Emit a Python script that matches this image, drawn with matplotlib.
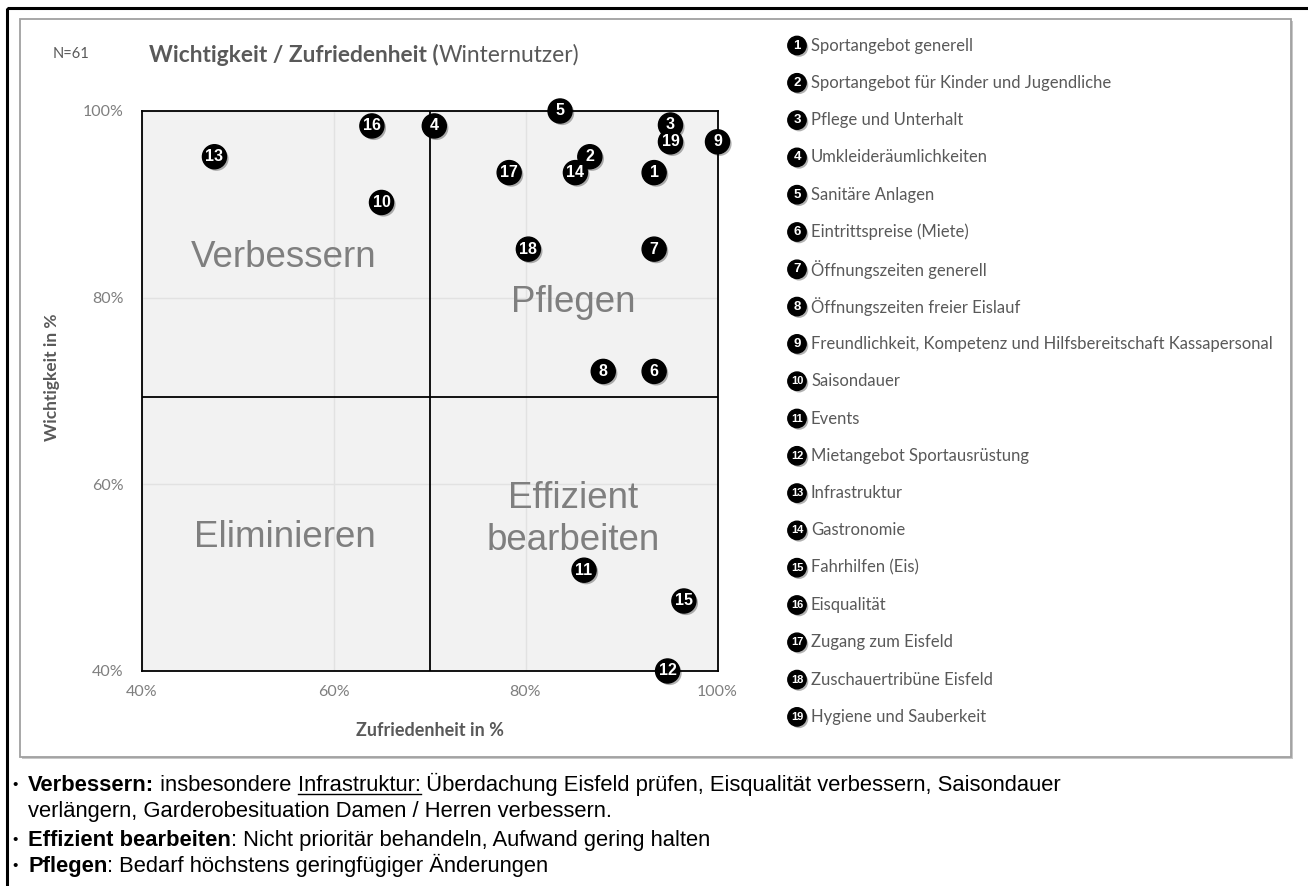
import matplotlib
matplotlib.use('Agg')
import matplotlib.pyplot as plt
from matplotlib.patches import Rectangle
import matplotlib.patheffects as pe

# ---------------- data ----------------
item_ids = [str(i) for i in range(1, 20)]
satisfaction = [93.4, 86.7, 95.1, 70.5, 83.6, 93.4, 93.4, 88.1, 100.0, 65.0,
                86.1, 94.8, 47.6, 85.2, 96.5, 64.0, 78.3, 80.3, 95.1]
importance = [93.4, 95.1, 98.5, 98.4, 100.0, 72.1, 85.2, 72.1, 96.7, 90.2,
              50.8, 40.0, 95.1, 93.4, 47.5, 98.4, 93.4, 85.2, 96.7]
item_names = [
    "Sportangebot generell",
    "Sportangebot für Kinder und Jugendliche",
    "Pflege und Unterhalt",
    "Umkleideräumlichkeiten",
    "Sanitäre Anlagen",
    "Eintrittspreise (Miete)",
    "Öffnungszeiten generell",
    "Öffnungszeiten freier Eislauf",
    "Freundlichkeit, Kompetenz und Hilfsbereitschaft Kassapersonal",
    "Saisondauer",
    "Events",
    "Mietangebot Sportausrüstung",
    "Infrastruktur",
    "Gastronomie",
    "Fahrhilfen (Eis)",
    "Eisqualität",
    "Zugang zum Eisfeld",
    "Zuschauertribüne Eisfeld",
    "Hygiene und Sauberkeit",
]
quadrant_labels = ["Verbessern", "Pflegen", "Eliminieren", "Effizient\nbearbeiten"]
ticks = [40, 60, 80, 100]
tick_labels = ["40%", "60%", "80%", "100%"]
x_split = 70
y_split = 69.4
sample_label = "N=61"
title_bold = "Wichtigkeit / Zufriedenheit ("
title_regular = "Winternutzer)"
x_label = "Zufriedenheit in %"
y_label = "Wichtigkeit in %"

# ---------------- figure ----------------
W, H = 1308, 886
fig = plt.figure(figsize=(W / 100, H / 100), dpi=100)
fig.patch.set_facecolor('white')

ov = fig.add_axes([0, 0, 1, 1], zorder=0)
ov.set_xlim(0, W)
ov.set_ylim(H, 0)
ov.axis('off')
ov.patch.set_alpha(0)

# frames
ov.add_patch(Rectangle((7, 8), 1320, 900, fill=False, edgecolor='black', lw=2.2))
ov.add_patch(Rectangle((22, 21), 1271, 738, facecolor='#c8c8c8', edgecolor='none'))
ov.add_patch(Rectangle((20, 19), 1271, 738, facecolor='white', edgecolor='#a0a0a0', lw=1.3))

FONT = ['Lato', 'DejaVu Sans']
NUMFONT = ['Liberation Sans Narrow', 'Liberation Sans', 'DejaVu Sans']
GRAY = '#595959'

fig.canvas.draw()
renderer = fig.canvas.get_renderer()


def text_width(s, **kw):
    t = ov.text(0, 0, 'x' + s + 'x', **kw)
    t2 = ov.text(0, 0, 'xx', **kw)
    w = t.get_window_extent(renderer).width - t2.get_window_extent(renderer).width
    t.remove()
    t2.remove()
    return w


def draw_runs(x, y, runs, **kw):
    for s, weight, underline in runs:
        ov.text(x, y, s, fontweight=weight, va='baseline', ha='left', **kw)
        w = text_width(s, fontweight=weight, **kw)
        if underline:
            ov.plot([x, x + w], [y + 3, y + 3], color=kw.get('color', 'black'), lw=1.0)
        x += w
    return x


# title
ov.text(53, 54, sample_label, fontsize=10.5, color=GRAY, family=FONT, va='center', ha='left')
draw_runs(149, 62, [(title_bold, 'bold', False), (title_regular, 'normal', False)],
          fontsize=16.4, color=GRAY, family=FONT)

# ---------------- main axes ----------------
ax = fig.add_axes([141.5 / W, 1 - 671 / H, 576 / W, 560 / H], zorder=1)
ax.set_facecolor('#f2f2f2')
ax.set_xlim(40, 100)
ax.set_ylim(40, 100)
ax.set_xticks(ticks)
ax.set_yticks(ticks)
ax.set_xticklabels(tick_labels)
ax.set_yticklabels(tick_labels)
ax.tick_params(length=0, labelsize=11.5, labelcolor='#7f7f7f')
ax.tick_params(axis='x', pad=10)
ax.tick_params(axis='y', pad=13)
for lab in ax.get_xticklabels() + ax.get_yticklabels():
    lab.set_family(FONT)
ax.grid(True, color='#e2e2e2', lw=1.0)
ax.set_axisbelow(True)
for sp in ax.spines.values():
    sp.set_color('black')
    sp.set_linewidth(1.3)

ax.axvline(x_split, color='black', lw=1.3, zorder=2)
ax.axhline(y_split, color='black', lw=1.3, zorder=2)

qkw = dict(fontsize=26.5, color='#7f7f7f', family=['Liberation Sans', 'DejaVu Sans'],
           ha='center', va='baseline', zorder=3)
ax.text(54.8, 83.3, quadrant_labels[0], **qkw)
ax.text(85.0, 78.5, quadrant_labels[1], **qkw)
ax.text(54.9, 53.3, quadrant_labels[2], **qkw)
ax.text(85.0, 52.96, quadrant_labels[3], linespacing=1.25, **qkw)

ax.scatter(satisfaction, importance, s=300, c='black', zorder=5, clip_on=False,
           path_effects=[pe.SimplePatchShadow(offset=(1.5, -1.5), shadow_rgbFace='black', alpha=0.3),
                         pe.Normal()])
for xi, yi, lab in zip(satisfaction, importance, item_ids):
    ax.text(xi, yi, lab, color='white', fontsize=11.5, fontweight='bold', family=NUMFONT,
            ha='center', va='center', zorder=6, clip_on=False)

# axis labels
ov.text(430, 731, x_label, fontsize=13, fontweight='bold', color=GRAY, family=FONT,
        ha='center', va='center')
ov.text(52, 377, y_label, fontsize=12.5, fontweight='bold', color=GRAY, family=FONT,
        ha='center', va='center', rotation=90)

# ---------------- legend list ----------------
y0, dy = 45.5, 37.3
for i, (num, name) in enumerate(zip(item_ids, item_names)):
    yy = y0 + i * dy
    ov.scatter([797], [yy], s=175, c='black', zorder=3,
               path_effects=[pe.SimplePatchShadow(offset=(1.5, -1.5), shadow_rgbFace='black', alpha=0.3),
                             pe.Normal()])
    ov.text(797, yy, num, color='white', fontsize=9.5 if len(num) == 1 else 8,
            fontweight='bold', family=NUMFONT, ha='center', va='center', zorder=4)
    ov.text(811, yy, name, color=GRAY, fontsize=12, family=FONT, ha='left', va='center')

# ---------------- bullet notes ----------------
bkw = dict(fontsize=15.8, color='black', family=['Liberation Sans', 'DejaVu Sans'])
lines = [
    (791, [("Verbessern:", 'bold', False), (" insbesondere ", 'normal', False),
           ("Infrastruktur:", 'normal', True),
           (" Überdachung Eisfeld prüfen, Eisqualität verbessern, Saisondauer", 'normal', False)], True),
    (817, [("verlängern, Garderobesituation Damen / Herren verbessern.", 'normal', False)], False),
    (846, [("Effizient bearbeiten", 'bold', False),
           (": Nicht prioritär behandeln, Aufwand gering halten", 'normal', False)], True),
    (872, [("Pflegen", 'bold', False),
           (": Bedarf höchstens geringfügiger Änderungen", 'normal', False)], True),
]
for yb, runs, bullet in lines:
    if bullet:
        ov.text(12, yb - 2, "•", va='baseline', ha='left', fontsize=11, color='black',
                family=['Liberation Sans', 'DejaVu Sans'])
    draw_runs(28, yb, runs, **bkw)

fig.savefig('out.png', dpi=100)
